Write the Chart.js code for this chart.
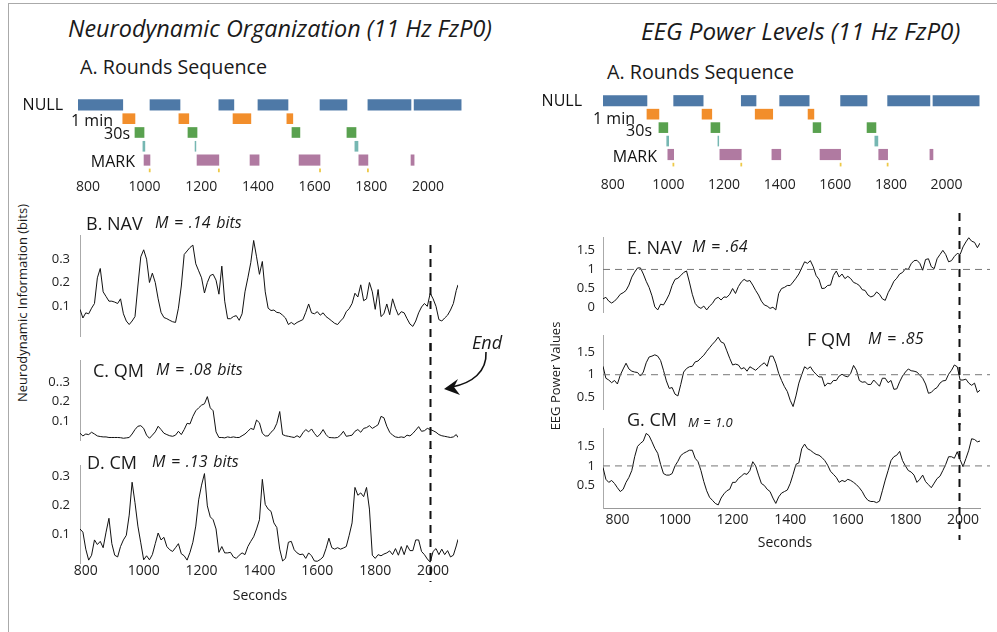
<!DOCTYPE html>
<html>
<head>
<meta charset="utf-8">
<title>Neurodynamic Organization and EEG Power Levels</title>
<script src="https://cdn.jsdelivr.net/npm/chart.js@4/dist/chart.umd.min.js"></script>
<style>
  body { margin: 0; background: #fff; }
  #fig { position: relative; width: 997px; height: 632px; overflow: hidden; font-family: 'Open Sans', sans-serif; color: #1a1a1a; }
  #fig canvas { position: absolute; }
  #frame { position: absolute; left: 8px; top: 3px; width: 1100px; height: 800px; border: 1px solid #aaa; }
  .t { position: absolute; white-space: nowrap; transform: translateY(-50%); line-height: 1; z-index: 2; }
  .i { font-style: italic; }
  .m { font-style: italic; font-size: 16px; word-spacing: 1.5px; }
  .c { transform: translate(-50%, -50%); }
  .rot { position: absolute; white-space: nowrap; font-size: 13px; line-height: 1; z-index: 2; transform: translate(-50%, -50%) rotate(-90deg); }
  svg { position: absolute; left: 0; top: 0; z-index: 3; }
</style>
</head>
<body>
<div id="fig">
  <div id="frame"></div>

  <div class="t i" style="left:68px;top:29px;font-size:23.4px">Neurodynamic Organization (11 Hz FzP0)</div>
  <div class="t i" style="left:641px;top:31px;font-size:24.2px">EEG Power Levels (11 Hz FzP0)</div>
  <div class="t" style="left:80px;top:67px;font-size:19.7px">A. Rounds Sequence</div>
  <div class="t" style="left:607px;top:72px;font-size:19.7px">A. Rounds Sequence</div>

  <div class="t" style="left:86px;top:223px;font-size:18px">B. NAV</div>
  <div class="t m" style="left:155px;top:222px">M = .14 bits</div>
  <div class="t" style="left:93px;top:370px;font-size:18px">C. QM</div>
  <div class="t m" style="left:156px;top:369px">M = .08 bits</div>
  <div class="t" style="left:87px;top:462px;font-size:18px">D. CM</div>
  <div class="t m" style="left:152px;top:461px">M = .13 bits</div>

  <div class="t" style="left:627px;top:247px;font-size:18px">E. NAV</div>
  <div class="t m" style="left:692px;top:246px">M = .64</div>
  <div class="t" style="left:807px;top:339px;font-size:18px">F QM</div>
  <div class="t m" style="left:868px;top:338px">M = .85</div>
  <div class="t" style="left:627px;top:419px;font-size:18px">G. CM</div>
  <div class="t i" style="left:688px;top:422px;font-size:13px;word-spacing:1px">M = 1.0</div>

  <div class="t i" style="left:472px;top:342px;font-size:18px">End</div>
  <div class="t c" style="left:260px;top:595px;font-size:14px">Seconds</div>
  <div class="t c" style="left:785px;top:542px;font-size:14px">Seconds</div>
  <div class="rot" style="left:22px;top:303px">Neurodynamic Information (bits)</div>
  <div class="rot" style="left:555px;top:376px">EEG Power Values</div>

  <svg width="997" height="632">
    <path d="M486 352 C 487 372, 472 383, 452 387" fill="none" stroke="#111" stroke-width="1.6"/>
    <path d="M444 389 L 458 379 L 454 387 L 460 395 Z" fill="#111"/>
  </svg>
</div>

<script>
// rounds sequence (seconds, start/end of each segment)
var rowLabels = ['NULL', '1 min', '30s', '', 'MARK', ''];
var nullBars = [[765, 923], [1019, 1125], [1262, 1315], [1400, 1506], [1619, 1714], [1788, 1940], [1951, 2117]];
var oneMinBars = [[923, 966], [1121, 1156], [1312, 1375], [1502, 1523]];
var thirtySecBars = [[966, 998], [1153, 1185], [1520, 1548], [1714, 1746]];
var cueBars = [[994, 1001], [1178, 1181], [1742, 1753]];
var markBars = [[998, 1019], [1185, 1262], [1372, 1404], [1545, 1619], [1756, 1788], [1940, 1951]];
var endMarks = [[1016, 1020], [1260, 1264], [1617, 1621], [1786, 1790]];

var secondTicks = [800, 1000, 1200, 1400, 1600, 1800, 2000];

// neurodynamic information (bits), left column
var secLeft = [780, 790, 800, 810, 820, 830, 840, 850, 860, 870, 880, 890, 900, 910, 920, 930, 940, 950, 960, 970,
  980, 990, 1000, 1010, 1020, 1030, 1040, 1050, 1060, 1070, 1080, 1090, 1100, 1110, 1120, 1130, 1140, 1150, 1160, 1170,
  1180, 1190, 1200, 1210, 1220, 1230, 1240, 1250, 1260, 1270, 1280, 1290, 1300, 1310, 1320, 1330, 1340, 1350, 1360, 1370,
  1380, 1390, 1400, 1410, 1420, 1430, 1440, 1450, 1460, 1470, 1480, 1490, 1500, 1510, 1520, 1530, 1540, 1550, 1560, 1570,
  1580, 1590, 1600, 1610, 1620, 1630, 1640, 1650, 1660, 1670, 1680, 1690, 1700, 1710, 1720, 1730, 1740, 1750, 1760, 1770,
  1780, 1790, 1800, 1810, 1820, 1830, 1840, 1850, 1860, 1870, 1880, 1890, 1900, 1910, 1920, 1930, 1940, 1950, 1960, 1970,
  1980, 1990, 2000, 2010, 2020, 2030, 2040, 2050, 2060, 2070, 2080, 2086];

var navBits = [0.085, 0.048, 0.07, 0.066, 0.09, 0.11, 0.22, 0.26, 0.16, 0.14,
  0.12, 0.12, 0.116, 0.11, 0.13, 0.066, 0.035, 0.02, 0.035, 0.054,
  0.185, 0.31, 0.34, 0.30, 0.2, 0.24, 0.2, 0.13, 0.072, 0.05,
  0.045, 0.038, 0.032, 0.029, 0.09, 0.185, 0.32, 0.335, 0.35, 0.36,
  0.28, 0.25, 0.22, 0.155, 0.2, 0.23, 0.235, 0.21, 0.15, 0.27,
  0.12, 0.045, 0.045, 0.054, 0.058, 0.038, 0.066, 0.16, 0.22, 0.285,
  0.38, 0.31, 0.235, 0.29, 0.16, 0.09, 0.08, 0.082, 0.072, 0.07,
  0.06, 0.048, 0.02, 0.029, 0.02, 0.029, 0.035, 0.041, 0.072, 0.108,
  0.07, 0.066, 0.075, 0.06, 0.07, 0.054, 0.045, 0.035, 0.025, 0.02,
  0.035, 0.048, 0.075, 0.088, 0.11, 0.154, 0.138, 0.19, 0.122, 0.13,
  0.2, 0.16, 0.085, 0.17, 0.054, 0.066, 0.108, 0.062, 0.13, 0.09,
  0.06, 0.075, 0.07, 0.045, 0.022, 0.012, 0.035, 0.07, 0.095, 0.11,
  0.098, 0.154, 0.13, 0.098, 0.041, 0.035, 0.048, 0.06, 0.082, 0.11,
  0.166, 0.19];

var qmBits = [0.036, 0.022, 0.032, 0.029, 0.041, 0.032, 0.022, 0.019, 0.017, 0.017,
  0.014, 0.014, 0.014, 0.014, 0.013, 0.01, 0.012, 0.014, 0.032, 0.055,
  0.072, 0.075, 0.061, 0.026, 0.01, 0.026, 0.043, 0.072, 0.055, 0.036,
  0.029, 0.023, 0.02, 0.026, 0.046, 0.029, 0.055, 0.087, 0.084, 0.123,
  0.152, 0.167, 0.181, 0.188, 0.225, 0.167, 0.152, 0.043, 0.014, 0.014,
  0.012, 0.017, 0.014, 0.017, 0.014, 0.014, 0.023, 0.032, 0.046, 0.061,
  0.055, 0.104, 0.09, 0.036, 0.022, 0.022, 0.041, 0.055, 0.087, 0.148,
  0.029, 0.023, 0.02, 0.017, 0.014, 0.023, 0.014, 0.038, 0.055, 0.043,
  0.058, 0.035, 0.017, 0.032, 0.055, 0.029, 0.014, 0.013, 0.012, 0.014,
  0.026, 0.046, 0.02, 0.023, 0.026, 0.046, 0.055, 0.041, 0.061, 0.065,
  0.075, 0.061, 0.07, 0.08, 0.123, 0.116, 0.072, 0.041, 0.026, 0.017,
  0.014, 0.017, 0.014, 0.026, 0.022, 0.035, 0.052, 0.07, 0.046, 0.049,
  0.061, 0.055, 0.049, 0.041, 0.029, 0.023, 0.02, 0.017, 0.014, 0.017,
  0.029, 0.014];

var cmBits = [0.118, 0.107, 0.048, 0.01, 0.027, 0.08, 0.064, 0.075, 0.053, 0.107,
  0.155, 0.067, 0.027, 0.021, 0.057, 0.08, 0.096, 0.166, 0.28, 0.209,
  0.128, 0.07, 0.011, 0.025, 0.011, 0.029, 0.067, 0.104, 0.08, 0.089,
  0.057, 0.046, 0.04, 0.053, 0.067, 0.032, 0.025, 0.01, 0.037, 0.072,
  0.128, 0.219, 0.27, 0.31, 0.198, 0.16, 0.15, 0.118, 0.037, 0.057,
  0.035, 0.035, 0.037, 0.021, 0.016, 0.027, 0.035, 0.029, 0.057, 0.075,
  0.091, 0.118, 0.15, 0.29, 0.203, 0.187, 0.179, 0.139, 0.123, 0.048,
  0.007, 0.016, 0.072, 0.075, 0.046, 0.035, 0.029, 0.031, 0.016, 0.035,
  0.025, 0.007, 0.006, 0.012, 0.021, 0.05, 0.086, 0.053, 0.048, 0.053,
  0.048, 0.052, 0.057, 0.096, 0.139, 0.262, 0.235, 0.243, 0.23, 0.262,
  0.187, 0.027, 0.016, 0.029, 0.025, 0.031, 0.035, 0.042, 0.029, 0.05,
  0.027, 0.057, 0.029, 0.061, 0.043, 0.043, 0.08, 0.08, 0.04, 0.029,
  0.014, 0.003, 0.04, 0.05, 0.029, 0.048, 0.029, 0.043, 0.021, 0.027,
  0.059, 0.082];

// EEG power values, right column
var secRight = [750, 760, 770, 780, 790, 800, 810, 820, 830, 840, 850, 860, 870, 880, 890, 900, 910, 920, 930, 940,
  950, 960, 970, 980, 990, 1000, 1010, 1020, 1030, 1040, 1050, 1060, 1070, 1080, 1090, 1100, 1110, 1120, 1130, 1140,
  1150, 1160, 1170, 1180, 1190, 1200, 1210, 1220, 1230, 1240, 1250, 1260, 1270, 1280, 1290, 1300, 1310, 1320, 1330, 1340,
  1350, 1360, 1370, 1380, 1390, 1400, 1410, 1420, 1430, 1440, 1450, 1460, 1470, 1480, 1490, 1500, 1510, 1520, 1530, 1540,
  1550, 1560, 1570, 1580, 1590, 1600, 1610, 1620, 1630, 1640, 1650, 1660, 1670, 1680, 1690, 1700, 1710, 1720, 1730, 1740,
  1750, 1760, 1770, 1780, 1790, 1800, 1810, 1820, 1830, 1840, 1850, 1860, 1870, 1880, 1890, 1900, 1910, 1920, 1930, 1940,
  1950, 1960, 1970, 1980, 1990, 2000, 2010, 2020, 2030, 2040, 2050, 2059];

var navPower = [0.23, 0.27, 0.17, 0.12, 0.17, 0.25, 0.35, 0.39, 0.45, 0.59,
  0.8, 0.93, 1.04, 1.04, 0.88, 0.69, 0.53, 0.31, 0.02, -0.06,
  0.09, 0.07, 0.2, 0.35, 0.58, 0.74, 0.77, 0.84, 0.92, 0.96,
  0.67, 0.35, 0.11, 0.02, -0.02, 0.04, -0.06, 0.04, 0.11, 0.23,
  0.27, 0.2, 0.28, 0.27, 0.35, 0.5, 0.37, 0.55, 0.67, 0.74,
  0.69, 0.71, 0.59, 0.45, 0.33, 0.17, 0.07, 0.04, -0.02, 0.01,
  -0.06, 0.37, 0.5, 0.53, 0.58, 0.58, 0.67, 0.77, 0.88, 1.04,
  1.2, 1.16, 1.23, 1.07, 0.84, 0.74, 0.5, 0.51, 0.58, 0.59,
  0.84, 0.96, 0.8, 0.88, 0.76, 0.82, 0.76, 0.66, 0.63, 0.58,
  0.47, 0.45, 0.33, 0.28, 0.31, 0.41, 0.35, 0.23, 0.19, 0.39,
  0.53, 0.69, 0.77, 0.88, 0.92, 1.02, 1.0, 1.15, 1.23, 1.24,
  1.16, 0.98, 1.26, 1.28, 1.07, 1.02, 1.28, 1.39, 1.5, 1.39,
  1.2, 1.23, 1.34, 1.42, 1.39, 1.59, 1.72, 1.83, 1.74, 1.71,
  1.57, 1.69];

var qmPower = [1.19, 0.92, 0.88, 0.82, 0.87, 0.79, 0.99, 1.13, 1.26, 1.13,
  1.08, 1.06, 1.05, 0.97, 1.06, 1.27, 1.4, 1.42, 1.45, 1.42,
  1.32, 1.1, 0.86, 0.69, 0.71, 0.56, 0.52, 0.78, 1.06, 1.14,
  1.18, 1.19, 1.29, 1.31, 1.38, 1.44, 1.53, 1.61, 1.69, 1.76,
  1.85, 1.74, 1.71, 1.54, 1.37, 1.22, 1.24, 1.22, 1.13, 1.16,
  1.08, 1.18, 1.14, 1.1, 1.16, 1.22, 1.27, 1.19, 1.42, 1.42,
  1.26, 1.03, 0.87, 0.73, 0.62, 0.42, 0.28, 0.52, 0.81, 1.0,
  1.18, 1.13, 1.18, 1.08, 1.01, 0.95, 0.95, 0.74, 0.81, 0.79,
  0.87, 0.87, 0.97, 1.01, 0.97, 0.95, 1.03, 1.21, 1.1, 0.87,
  0.83, 0.84, 0.78, 0.78, 0.88, 0.81, 0.74, 0.92, 0.92, 0.82,
  0.87, 0.67, 0.68, 0.84, 0.97, 1.06, 1.13, 1.09, 1.08, 1.06,
  0.99, 0.92, 0.79, 0.58, 0.6, 0.67, 0.71, 0.81, 0.86, 0.87,
  1.01, 1.1, 1.22, 1.18, 0.88, 0.88, 0.9, 0.81, 0.76, 0.81,
  0.6, 0.65];

var cmPower = [0.96, 0.65, 0.57, 0.62, 0.54, 0.43, 0.33, 0.39, 0.57, 0.7,
  0.88, 1.24, 1.51, 1.59, 1.65, 1.85, 1.79, 1.63, 1.46, 1.33,
  1.04, 0.8, 0.76, 0.76, 0.8, 1.0, 1.12, 1.27, 1.33, 1.37,
  1.41, 1.41, 1.2, 1.11, 0.88, 0.59, 0.35, 0.18, 0.1, 0.02,
  -0.02, 0.16, 0.27, 0.35, 0.39, 0.57, 0.57, 0.67, 0.73, 0.8,
  0.78, 0.88, 1.11, 1.0, 0.76, 0.54, 0.49, 0.39, 0.33, 0.16,
  0.02, 0.19, 0.29, 0.33, 0.37, 0.54, 0.78, 1.04, 1.08, 1.45,
  1.57, 1.45, 1.41, 1.35, 1.3, 1.28, 1.22, 1.14, 1.02, 0.86,
  0.78, 0.7, 0.57, 0.62, 0.59, 0.65, 0.62, 0.57, 0.51, 0.43,
  0.33, 0.19, 0.1, 0.07, 0.07, 0.04, 0.08, 0.35, 0.63, 0.88,
  1.14, 1.24, 1.28, 1.38, 1.14, 1.0, 0.88, 0.84, 0.76, 0.57,
  0.65, 0.76, 0.59, 0.51, 0.43, 0.55, 0.67, 0.73, 0.88, 1.04,
  1.24, 1.24, 1.2, 1.37, 1.16, 0.98, 1.19, 1.41, 1.71, 1.69,
  1.63, 1.65];

var bitTicks = [0.1, 0.2, 0.3];
var bitLabels = ['0.1', '0.2', '0.3'];
var bitLabelsQM = ['0.1', '0.2', '0..3'];
var powerTicksNav = [0, 0.5, 1, 1.5];
var powerLabelsNav = ['0', '0.5', '1', '1.5'];
var powerTicks = [0.5, 1, 1.5];
var powerLabels = ['0.5', '1', '1.5'];
var endLeft = 1990;
var endRight = 1985;

var FONT = "'Open Sans', sans-serif";
Chart.defaults.font.family = FONT;
var fig = document.getElementById('fig');

// make a canvas whose chart area lands on the given page box
function addCanvas(area, pad, yW, xH) {
  var c = document.createElement('canvas');
  var left = area.l - yW - pad.l, top = area.t - pad.t;
  var w = Math.round(area.r + pad.r - left), h = Math.round(area.b + xH + pad.b - top);
  c.width = w; c.height = h;
  c.style.left = left + 'px'; c.style.top = top + 'px';
  c.style.width = w + 'px'; c.style.height = h + 'px';
  fig.appendChild(c);
  return { canvas: c, top: top };
}

// dashed reference lines (value 1 level and end of session)
var refLines = {
  id: 'refLines',
  afterDatasetsDraw: function(chart, args, o) {
    var ctx = chart.ctx, a = chart.chartArea;
    ctx.save();
    if (o.hLine !== undefined && o.hLine !== null) {
      var py = chart.scales.y.getPixelForValue(o.hLine);
      ctx.strokeStyle = '#777'; ctx.lineWidth = 1; ctx.setLineDash([7, 5]);
      ctx.beginPath(); ctx.moveTo(a.left, py); ctx.lineTo(a.right + 10, py); ctx.stroke();
    }
    if (o.vLine !== undefined && o.vLine !== null) {
      var px = Math.round(chart.scales.x.getPixelForValue(o.vLine)) + 0.5;
      var y0 = Math.max(0, o.vFrom - o.top), y1 = Math.min(chart.height, o.vTo - o.top);
      ctx.strokeStyle = '#111'; ctx.lineWidth = 2; ctx.setLineDash([8, 6]);
      ctx.lineDashOffset = (y0 + o.top) - o.vFrom;
      ctx.beginPath(); ctx.moveTo(px, y0); ctx.lineTo(px, y1); ctx.stroke();
    }
    ctx.restore();
  }
};

function lineChart(o) {
  var made = addCanvas(o.area, o.pad, o.yW, o.xH);
  return new Chart(made.canvas, {
    type: 'line',
    data: {
      datasets: [{
        data: o.t.map(function(x, i) { return { x: x, y: o.v[i] }; }),
        borderColor: '#111', borderWidth: 1, pointRadius: 0, tension: 0
      }]
    },
    options: {
      responsive: false, animation: false, events: [],
      layout: { padding: { left: o.pad.l, right: o.pad.r, top: o.pad.t, bottom: o.pad.b } },
      plugins: {
        legend: { display: false }, tooltip: { enabled: false },
        refLines: { hLine: o.hLine, vLine: o.vLine, vFrom: o.vFrom, vTo: o.vTo, top: made.top }
      },
      scales: {
        x: {
          type: 'linear', min: o.xMin, max: o.xMax, display: o.xH > 0,
          grid: { display: false, drawTicks: false },
          border: { display: !!o.xBorder, color: '#999' },
          afterBuildTicks: function(s) { s.ticks = secondTicks.map(function(v) { return { value: v }; }); },
          afterFit: function(s) { s.height = o.xH; },
          ticks: { padding: o.xPad || 0, autoSkip: false, maxRotation: 0, color: '#222', font: { size: 14 },
                   callback: function(v) { return String(v); } }
        },
        y: {
          type: 'linear', min: o.yMin, max: o.yMax,
          grid: { display: false, drawTicks: false },
          border: { color: '#aaa' },
          afterBuildTicks: function(s) { s.ticks = o.yTicks.map(function(v) { return { value: v }; }); },
          afterFit: function(s) { s.width = o.yW; },
          ticks: { padding: o.yPad, color: '#222', font: { size: 13 },
                   callback: function(v, i) { return o.yLabels[i]; } }
        }
      }
    },
    plugins: [refLines]
  });
}

// row names next to the rounds bars
var rowText = {
  id: 'rowText',
  afterDraw: function(chart, args, o) {
    var ctx = chart.ctx, a = chart.chartArea, y = chart.scales.y;
    ctx.save();
    ctx.fillStyle = '#111'; ctx.font = '16px ' + FONT;
    ctx.textAlign = 'right'; ctx.textBaseline = 'middle';
    rowLabels.forEach(function(t, i) {
      if (t) ctx.fillText(t, a.left + o.offsets[i], y.getPixelForValue(o.rowPos[i]) + o.dy[i]);
    });
    ctx.restore();
  }
};

var rowPos = [0, 1, 2, 3, 4, 4.75];
var rowBars = [nullBars, oneMinBars, thirtySecBars, cueBars, markBars, endMarks];
var rowColors = ['#4e79a7', '#f28e2b', '#59a14f', '#76b7b2', '#b07aa1', '#edc948'];
var rowThick = [10.5, 10, 10, 10, 10.5, 3];

function roundsChart(o) {
  var made = addCanvas(o.area, o.pad, 0, o.xH);
  return new Chart(made.canvas, {
    type: 'bar',
    data: {
      datasets: rowBars.map(function(bars, i) {
        return {
          data: bars.map(function(b) { return { x: b, y: rowPos[i] }; }),
          backgroundColor: rowColors[i], barThickness: rowThick[i],
          borderWidth: 0, grouped: false
        };
      })
    },
    options: {
      indexAxis: 'y', responsive: false, animation: false, events: [],
      layout: { padding: { left: o.pad.l, right: o.pad.r, top: o.pad.t, bottom: o.pad.b } },
      plugins: {
        legend: { display: false }, tooltip: { enabled: false },
        rowText: { offsets: o.offsets, dy: o.dy, rowPos: rowPos }
      },
      scales: {
        x: {
          type: 'linear', min: 765, max: 2120,
          grid: { display: false, drawTicks: false }, border: { display: false },
          afterBuildTicks: function(s) { s.ticks = secondTicks.map(function(v) { return { value: v }; }); },
          afterFit: function(s) { s.height = o.xH; },
          ticks: { padding: o.xPad, autoSkip: false, maxRotation: 0, color: '#222', font: { size: 14 },
                   callback: function(v) { return String(v); } }
        },
        y: { type: 'linear', min: -0.5, max: 5.3, reverse: true, offset: false, display: false }
      }
    },
    plugins: [rowText]
  });
}

// A. rounds sequence, both columns
roundsChart({ area: { l: 78, r: 462, t: 98.1, b: 177.9 }, pad: { l: 68, r: 10, t: 6, b: 4 }, xH: 20, xPad: 1,
  offsets: [-15, 35, 52, 0, 57, 0], dy: [1, 3, 2, 0, 2, 0] });
roundsChart({ area: { l: 603, r: 980, t: 94.25, b: 172.55 }, pad: { l: 76, r: 10, t: 6, b: 4 }, xH: 22, xPad: 5,
  offsets: [-21, 32, 49, 0, 54, 0], dy: [1, 5, 4, 0, 3, 0] });

// B, C, D neurodynamic information
lineChart({ t: secLeft, v: navBits, area: { l: 80, r: 458, t: 228, b: 344 }, pad: { l: 0, r: 12, t: 10, b: 10 },
  yW: 45, xH: 0, xMin: 780, xMax: 2086, yMin: -0.03, yMax: 0.4, yTicks: bitTicks, yLabels: bitLabels, yPad: 10,
  vLine: endLeft, vFrom: 245, vTo: 582 });
lineChart({ t: secLeft, v: qmBits, area: { l: 80, r: 458, t: 353, b: 448 }, pad: { l: 0, r: 12, t: 10, b: 10 },
  yW: 45, xH: 0, xMin: 780, xMax: 2086, yMin: 0, yMax: 0.41, yTicks: bitTicks, yLabels: bitLabelsQM, yPad: 10,
  vLine: endLeft, vFrom: 245, vTo: 582 });
lineChart({ t: secLeft, v: cmBits, area: { l: 80, r: 458, t: 458, b: 563 }, pad: { l: 0, r: 12, t: 10, b: 10 },
  yW: 45, xH: 20, xPad: 0, xMin: 780, xMax: 2086, yMin: 0, yMax: 0.337, yTicks: bitTicks, yLabels: bitLabels, yPad: 10,
  vLine: endLeft, vFrom: 245, vTo: 582 });

// E, F, G EEG power
lineChart({ t: secRight, v: navPower, area: { l: 603, r: 980, t: 237, b: 318 }, pad: { l: 0, r: 14, t: 25, b: 10 },
  yW: 40, xH: 0, xMin: 750, xMax: 2059, yMin: -0.12, yMax: 1.85, yTicks: powerTicksNav, yLabels: powerLabelsNav, yPad: 8,
  hLine: 1, vLine: endRight, vFrom: 213, vTo: 540 });
lineChart({ t: secRight, v: qmPower, area: { l: 603, r: 980, t: 330, b: 415 }, pad: { l: 0, r: 14, t: 10, b: 10 },
  yW: 40, xH: 0, xMin: 750, xMax: 2059, yMin: 0.22, yMax: 1.88, yTicks: powerTicks, yLabels: powerLabels, yPad: 8,
  hLine: 1, vLine: endRight, vFrom: 213, vTo: 540 });
lineChart({ t: secRight, v: cmPower, area: { l: 603, r: 980, t: 423, b: 508 }, pad: { l: 0, r: 14, t: 10, b: 14 },
  yW: 40, xH: 20, xPad: 4, xBorder: true, xMin: 750, xMax: 2059, yMin: -0.1, yMax: 1.97, yTicks: powerTicks, yLabels: powerLabels, yPad: 8,
  hLine: 1, vLine: endRight, vFrom: 213, vTo: 540 });
</script>
</body>
</html>
